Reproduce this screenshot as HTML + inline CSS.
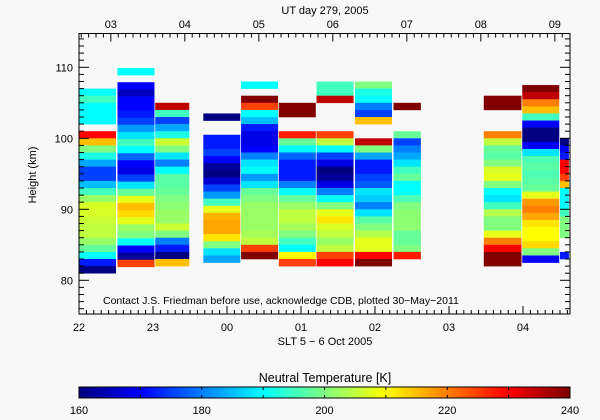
<!DOCTYPE html>
<html><head><meta charset="utf-8"><style>
html,body{margin:0;padding:0;background:#f8f8f8;}
svg{display:block;font-family:"Liberation Sans",sans-serif;}
</style></head><body>
<svg id="c" width="600" height="420" viewBox="0 0 600 420"></svg>
<script>
// ---- data ----
const colStart=[22.0,22.52,23.03,23.68,24.19,24.70,25.21,25.73,26.25,27.47,27.99,28.50];
const colEnd  =[22.50,23.02,23.49,24.18,24.69,25.20,25.71,26.23,26.62,27.98,28.49,28.62];
const colTop  =[106,108.9,104,102.5,107,104,107,107,104,105,106.5,99];
const temps=[
 [190,195,190,190,190,null,230,215,200,192,183,175,175,185,195,202,207,207,206,205,205,202,198,190,172,160],
 [190,null,170,165,170,170,172,175,182,188,195,190,178,170,168,175,188,198,208,215,213,208,202,200,190,170,162,225],
 [235,195,175,183,192,206,200,188,180,190,197,197,198,200,201,202,202,206,200,180,172,160,215],
 [160,null,null,172,172,175,170,162,160,166,175,182,195,208,216,217,217,212,200,188,183],
 [190,null,240,225,190,185,172,168,168,170,180,188,190,182,188,198,200,202,202,202,202,203,205,225,240],
 [240,240,null,null,228,198,190,178,172,172,172,180,190,198,202,205,205,203,200,195,190,210,225],
 [195,195,235,null,null,null,null,225,205,190,175,168,160,162,168,180,190,200,208,212,207,205,202,205,225,230],
 [200,192,190,180,175,215,null,null,235,200,183,172,172,175,177,188,186,180,188,197,200,204,208,208,230,240],
 [240,null,null,null,198,175,180,183,188,195,198,190,190,196,200,201,201,201,198,198,200,228],
 [240,240,null,null,null,220,205,198,197,200,207,208,200,190,188,195,204,200,200,208,220,230,240,240],
 [240,235,220,215,195,170,160,160,170,188,196,197,196,197,198,208,218,220,217,212,210,210,213,200,170],
 [160,170,172,230,230,225,215,190,190,190,195,200,200,200,null,null,172]
];
const xTickLabels=["22","23","00","01","02","03","04"];
const topTickLabels=["03","04","05","06","07","08","09"];
const yTickLabels=["80","90","100","110"];
const cbTickLabels=["160","180","200","220","240"];
// ---- scales ----
const X0=79,X1=570,Y0=33.5,Y1=314;
const xs=h=>79+(h-22)*74;
const ys=k=>67.3+(110-k)*7.1;
const cs=t=>79+(t-160)/80*(X1-X0);
function jet(v){v=Math.max(0,Math.min(1,v));
 const r=Math.max(0,Math.min(1,Math.min(4*v-1.5,-4*v+4.5)));
 const g=Math.max(0,Math.min(1,Math.min(4*v-0.5,-4*v+3.5)));
 const b=Math.max(0,Math.min(1,Math.min(4*v+0.5,-4*v+2.5)));
 return `rgb(${Math.round(r*255)},${Math.round(g*255)},${Math.round(b*255)})`;}
const NS="http://www.w3.org/2000/svg";const svg=document.getElementById('c');
function mk(tag,at,parent){const e=document.createElementNS(NS,tag);for(const k in at)e.setAttribute(k,at[k]);(parent||svg).appendChild(e);return e;}
function txt(x,y,s,anchor,size){const t=mk('text',{x:x,y:y,'text-anchor':anchor||'middle','font-size':size||11,fill:'#000'});t.textContent=s;return t;}
// ---- heatmap ----
const hm=mk('g',{});


temps.forEach((col,i)=>{
 const x0=xs(colStart[i]),x1=xs(colEnd[i]);
 col.forEach((t,j)=>{ if(t===null)return;
  const k=colTop[i]-j;
  const r=mk('rect',{x:x0,y:ys(k+1),width:x1-x0,height:ys(k)-ys(k+1)+0.3,fill:jet((t-160)/80)},hm);
  
  
 });
});
// ---- frame & ticks ----
const ax=mk('g',{stroke:'#000','stroke-width':1,fill:'none'});


mk('rect',{x:X0,y:Y0,width:X1-X0,height:Y1-Y0},ax);
for(let h=22;h<=28.62;h+=0.1){const x=xs(h);if(x>X1+0.1)break;const maj=Math.abs(h-Math.round(h))<0.01;const L=maj?8:4;
 mk('line',{x1:x,y1:Y1,x2:x,y2:Y1-L},ax);}
for(let u=2.6;u<=9.1;u+=0.1){const x=xs(u+22-2.57);if(x<X0-0.1||x>X1+0.1)continue;const maj=Math.abs(u-Math.round(u))<0.01;const L=maj?8:4;
 mk('line',{x1:x,y1:Y0,x2:x,y2:Y0+L},ax);}
for(let k=76;k<=114;k++){const y=ys(k);const L=k%10==0?10:5;
 mk('line',{x1:X0,y1:y,x2:X0+L,y2:y},ax);mk('line',{x1:X1,y1:y,x2:X1-L,y2:y},ax);}
xTickLabels.forEach((s,i)=>{const t=txt(xs(22+i),331,s);});
topTickLabels.forEach((s,i)=>{const t=txt(xs(22.43+i),28,s);});
yTickLabels.forEach((s,i)=>{const t=txt(73,ys(80+10*i)+4,s,'end');});
</script>
<svg style="position:absolute;left:0;top:0" width="600" height="420">
<text x="325" y="14" text-anchor="middle" font-size="11" font-family="Liberation Sans, sans-serif">UT day 279, 2005</text>
<text x="325" y="345" text-anchor="middle" font-size="11" font-family="Liberation Sans, sans-serif">SLT 5 − 6 Oct 2005</text>
<text x="36" y="175" text-anchor="middle" font-size="11" font-family="Liberation Sans, sans-serif" transform="rotate(-90 36 175)">Height (km)</text>
<text x="103" y="304" font-size="10.5" font-family="Liberation Sans, sans-serif">Contact J.S. Friedman before use, acknowledge CDB, plotted 30−May−2011</text>
<text x="325" y="382" text-anchor="middle" font-size="12.5" font-family="Liberation Sans, sans-serif">Neutral Temperature [K]</text>
</svg>
<script>
// ---- colorbar ----
const cb=mk('g',{});


for(let i=0;i<160;i++){const t0=160+i*0.5;mk('rect',{x:cs(t0),y:387,width:(X1-X0)/160+0.4,height:11,fill:jet(i/159)},cb);}
mk('rect',{x:X0,y:387,width:X1-X0,height:11,fill:'none',stroke:'#000'},cb);
for(let t=170;t<240;t+=10){mk('line',{x1:cs(t),y1:387,x2:cs(t),y2:390,stroke:'#000'},cb);mk('line',{x1:cs(t),y1:398,x2:cs(t),y2:395,stroke:'#000'},cb);}
cbTickLabels.forEach((s,i)=>{const t=txt(cs(160+20*i),414,s);});
</script>
</body></html>
